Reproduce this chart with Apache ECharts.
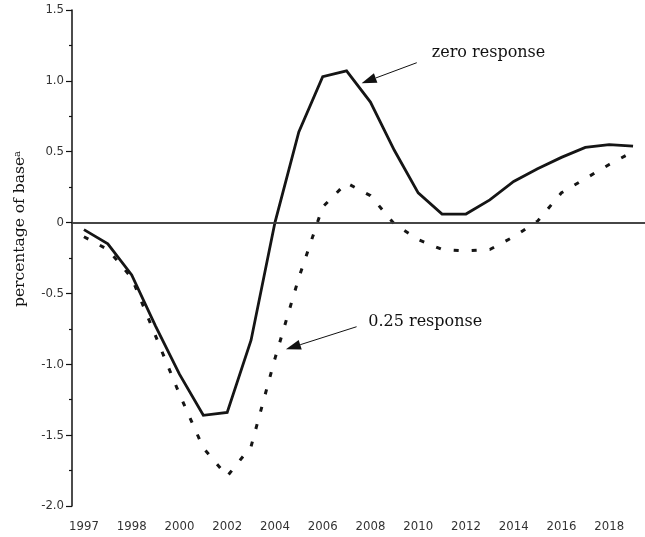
<!DOCTYPE html>
<html>
<head>
<meta charset="utf-8">
<script src="https://cdn.jsdelivr.net/npm/echarts@6/dist/echarts.min.js"></script>
<style>
  html, body { margin: 0; padding: 0; background: #fff; }
  #chart { width: 645px; height: 537px; }
</style>
</head>
<body>
<div id="chart"></div>
<script>
// 24 periods on the x axis, only every second one is labelled (labels as printed)
const periods = ['1997', '', '1998', '', '2000', '', '2002', '', '2004', '', '2006', '',
  '2008', '', '2010', '', '2012', '', '2014', '', '2016', '', '2018', '']
const zeroResponse = [-0.05, -0.15, -0.37, -0.73, -1.07, -1.36, -1.34, -0.83, 0.0, 0.64, 1.03, 1.07,
  0.85, 0.51, 0.21, 0.06, 0.06, 0.16, 0.29, 0.38, 0.46, 0.53, 0.55, 0.54]
const quarterResponse = [-0.10, -0.19, -0.39, -0.80, -1.21, -1.59, -1.79, -1.58, -0.96, -0.39, 0.11, 0.28,
  0.19, -0.01, -0.12, -0.19, -0.20, -0.19, -0.10, 0.01, 0.21, 0.31, 0.41, 0.50]

// annotation anchors in data coords (x = period index, may be fractional)
const notes = [
  { text: 'zero response', label: [14.57, 1.197], tail: [13.94, 1.128], head: [11.63, 0.983] },
  { text: '0.25 response', label: [11.91, -0.70], tail: [11.42, -0.735], head: [8.46, -0.894] }
]

const tickFont = "'Liberation Sans Narrow', 'DejaVu Sans Condensed', sans-serif"
const serif = "'DejaVu Serif', serif"

const option = {
  animation: false,
  grid: { left: 72, right: 0, top: 10, bottom: 31 },
  xAxis: {
    type: 'category',
    data: periods,
    boundaryGap: true,
    axisLine: { lineStyle: { color: '#111', width: 1.5 } },
    axisTick: { alignWithLabel: true, interval: 0, length: 7, lineStyle: { color: '#111', width: 1.2 } },
    axisLabel: { interval: 0, color: '#333', fontSize: 13, fontFamily: tickFont, margin: 14 },
    splitLine: { show: false }
  },
  yAxis: {
    type: 'value',
    min: -2,
    max: 1.5,
    interval: 0.5,
    name: 'percentage of base{sup|a}',
    nameLocation: 'middle',
    nameGap: 44,
    nameTextStyle: {
      fontFamily: serif, fontSize: 15.5, color: '#111',
      padding: [0, 0, 0, 58],
      rich: { sup: { fontFamily: serif, fontSize: 10, color: '#111', verticalAlign: 'top', lineHeight: 10 } }
    },
    axisLine: { show: true, lineStyle: { color: '#111', width: 1.5 } },
    axisTick: { show: true, length: 6, lineStyle: { color: '#111', width: 1.2 } },
    minorTick: { show: true, splitNumber: 2, length: 3, lineStyle: { color: '#111', width: 1.2 } },
    axisLabel: {
      color: '#333', fontSize: 13, fontFamily: tickFont, margin: 8,
      formatter: v => (v === 0 ? '0' : v.toFixed(1))
    },
    splitLine: { show: false }
  },
  series: [
    {
      name: 'zero response',
      type: 'line',
      data: zeroResponse,
      symbol: 'none',
      lineStyle: { color: '#151515', width: 2.8, join: 'miter' },
      markLine: {
        silent: true,
        symbol: 'none',
        label: { show: false },
        lineStyle: { color: '#444', width: 1.5, type: 'solid' },
        data: [{ yAxis: 0 }]
      },
      z: 3
    },
    {
      name: '0.25 response',
      type: 'line',
      data: quarterResponse,
      symbol: 'none',
      lineStyle: { color: '#151515', width: 3, type: [5, 13] },
      z: 3
    }
  ]
}

const chart = echarts.init(document.getElementById('chart'))
chart.setOption(option)

function toPx(x, y) {
  const i = Math.floor(x)
  const a = chart.convertToPixel({ gridIndex: 0 }, [i, y])
  const b = chart.convertToPixel({ gridIndex: 0 }, [i + 1, y])
  return [a[0] + (b[0] - a[0]) * (x - i), a[1]]
}

const graphics = []
notes.forEach(n => {
  const lp = toPx(n.label[0], n.label[1])
  const t = toPx(n.tail[0], n.tail[1])
  const h = toPx(n.head[0], n.head[1])
  const ang = Math.atan2(t[1] - h[1], t[0] - h[0])
  const len = 15
  const half = 5
  const bx = h[0] + Math.cos(ang) * len
  const by = h[1] + Math.sin(ang) * len
  const ox = -Math.sin(ang) * half
  const oy = Math.cos(ang) * half
  graphics.push({ type: 'line', shape: { x1: t[0], y1: t[1], x2: bx, y2: by }, style: { stroke: '#111', lineWidth: 1 } })
  graphics.push({ type: 'polygon', shape: { points: [h, [bx + ox, by + oy], [bx - ox, by - oy]] }, style: { fill: '#111' } })
  graphics.push({
    type: 'text', x: lp[0], y: lp[1],
    style: { text: n.text, fontFamily: serif, fontSize: 16, fill: '#111', verticalAlign: 'middle' }
  })
})
chart.setOption({ graphic: graphics })

window.addEventListener('resize', () => chart.resize())
</script>
</body>
</html>
